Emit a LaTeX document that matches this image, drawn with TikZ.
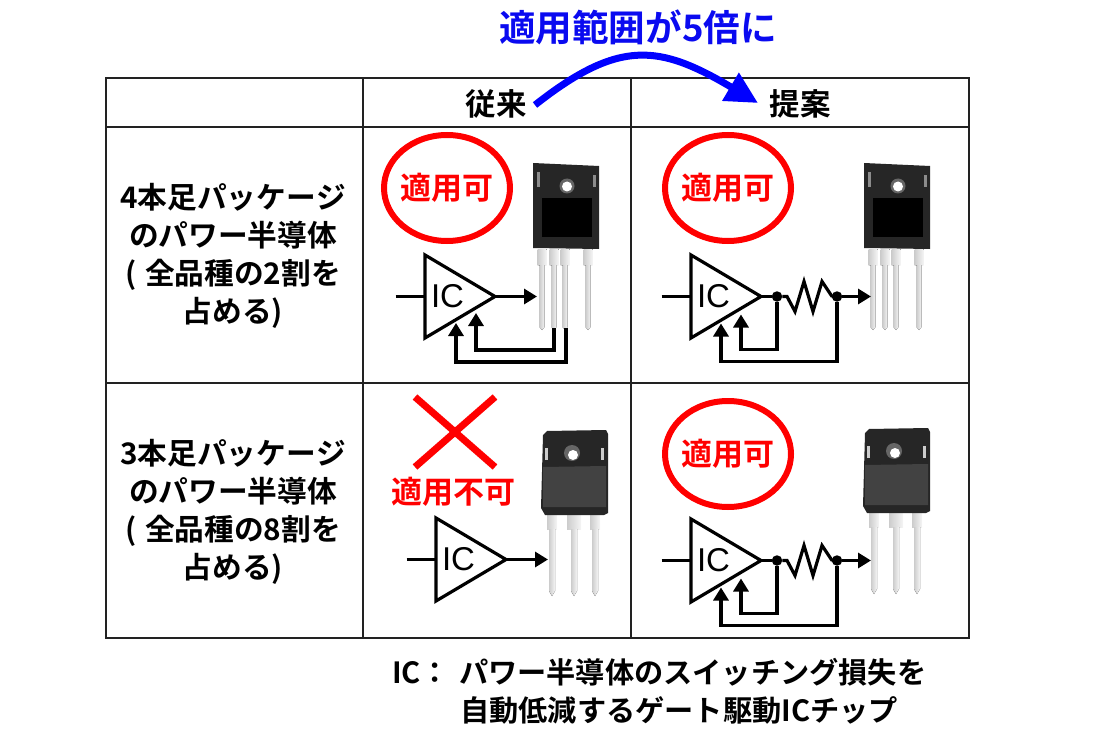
\documentclass[tikz,border=0pt]{standalone}
\usepackage{fontspec}
\setmainfont{Liberation Sans}
\newfontfamily\cjk{Noto Sans CJK JP}[BoldFont={Noto Sans CJK JP Bold},Kerning=Off]
\usetikzlibrary{arrows.meta,shapes.geometric}
\definecolor{tblline}{HTML}{222222}
\tikzset{
    headtxt/.style={font=\cjk\bfseries\fontsize{30.5}{30.5}\selectfont, text=black},
    sidetxt/.style={font=\cjk\bfseries\fontsize{29.7}{38}\selectfont, align=center},
    notetxt/.style={anchor=west, font=\cjk\bfseries\fontsize{29.2}{29.2}\selectfont, inner sep=0pt},
    oktxt/.style={font=\cjk\bfseries\fontsize{31}{31}\selectfont, text=red},
    oval/.style={draw=red, line width=6pt, ellipse, minimum width=126pt, minimum height=106pt, inner sep=0pt},
    icline/.style={line width=3.2pt},
    icarrow/.style={line width=3.2pt, -{Triangle[length=13pt,width=15pt]}},
    jdot/.style={circle, fill=black, minimum size=10.5pt, inner sep=0pt},
    lead/.style={left color=gray!40, right color=gray!8, draw=none},
}
\begin{document}
\begin{tikzpicture}[x=1pt,y=-1pt]
    \useasboundingbox (0,0) rectangle (1100,746);

    % Table
    \draw[tblline, line width=1.4pt] (106,78) rectangle (969,638);
    \draw[tblline, line width=1.4pt] (106,127) -- (969,127);
    \draw[tblline, line width=1.4pt] (106,383) -- (969,383);
    \draw[tblline, line width=1.4pt] (363,78) -- (363,638);
    \draw[tblline, line width=1.4pt] (631,78) -- (631,638);

    % Headers
    \node[headtxt] (conv) at (496,104) {従来};
    \node[headtxt] (prop) at (800,104) {提案};
    \node[sidetxt] (row1) at (233,255.5) {4本足パッケージ\\のパワー半導体\\(\hspace{.3em}全品種の2割を\\占める)};
    \node[sidetxt] (row2) at (233,511.5) {3本足パッケージ\\のパワー半導体\\(\hspace{.3em}全品種の8割を\\占める)};

    % Title and arrow
    \node[font=\cjk\bfseries\fontsize{36.6}{36.6}\selectfont, text={rgb,255:red,10;green,10;blue,240}] (title) at (638,27) {適用範囲が5倍に};
    \coordinate (from) at (535,105);
    \coordinate (to) at (758,103);
    \draw[line width=7pt, blue, -{Triangle[length=32pt,width=31pt]}] (from) .. controls (620,38) and (660,45) .. (to);

    % Four pin packages
    \foreach \x in {0,331} {
        \begin{scope}[shift={(\x,0)}]
            \foreach \p in {542,554,565,588} {
                \fill[lead] (\p-4.5,249) rectangle (\p+4.5,265);
                \fill[lead] (\p-2.5,265) -- (\p+2.5,265) -- (\p+2.5,327) -- (\p,330) -- (\p-2.5,327) -- cycle;
            }
            \fill[black!85] (533,163) -- (599,166) -- (599,249) -- (533,248) -- cycle;
            \fill[black] (542,198) rectangle (592,237);
            \fill[black!60] (567,186) circle (7.5);
            \fill[white] (567,186.5) circle (5);
            \fill[white!55!black] (537,172) rectangle (540,187);
            \fill[white!55!black] (593,175) rectangle (596,187);
        \end{scope}
    }

    % Three pin packages
    \foreach \x/\y in {0/0,-322/2} {
        \begin{scope}[shift={(\x,\y)}]
            \fill[lead] (869,512) rectangle (879,527);
            \fill[lead] (889,512) rectangle (903,527);
            \fill[lead] (912,512) rectangle (922,527);
            \foreach \p in {874,896,917} {
                \fill[lead] (\p-3,527) -- (\p+3,527) -- (\p+3,589) -- (\p,594) -- (\p-3,589) -- cycle;
            }
            \fill[black!85] (865,433) -- (869,429) -- (928,428) -- (930,432) -- (930,511) -- (926,513) -- (867,513) -- (863,506) -- cycle;
            \fill[black!74] (865,465) -- (928,464) -- (928,505) -- (865,505) -- cycle;
            \fill[black!60] (894,451) circle (8);
            \fill[white] (895,453) circle (5);
            \fill[white!80!black] (867,446) rectangle (870,458);
            \fill[white!80!black] (923,446) rectangle (926,458);
        \end{scope}
    }

    % IC amplifiers
    \foreach \x/\y/\n in {425/255/a,691/255/b,436/518/c,691/519/d} {
        \draw[icline, line join=miter, fill=white] (\x,\y) -- (\x,\y+83) -- (\x+70,\y+41.5) -- cycle;
        \coordinate (in\n) at (\x-29.5,\y+41.5);
        \coordinate (left\n) at (\x,\y+41.5);
        \coordinate (out\n) at (\x+70,\y+41.5);
        \node[font=\fontsize{33}{33}\selectfont] (ic\n) at (\x+22.5,\y+41.5) {IC};
        \draw[icline] (in\n) -- (left\n);
    }

    % Top left circuit
    \coordinate (pina) at (537,296.5);
    \draw[icarrow] (outa) -- (pina);
    \coordinate (gatea) at (554,328);
    \coordinate (kelvina) at (566,328);
    \coordinate (fba) at (476,313);
    \coordinate (fbb) at (456,323);
    \draw[icarrow] (gatea) |- (476,350) -- (fba);
    \draw[icarrow] (kelvina) |- (456,362) -- (fbb);

    % Bottom left circuit
    \coordinate (pinc) at (548,559.5);
    \draw[icarrow] (outc) -- (pinc);

    % Right circuits
    \foreach \n/\y in {b/296.5,d/560.5} {
        \node[jdot] (ja\n) at (777,\y) {};
        \node[jdot] (jb\n) at (837,\y) {};
        \coordinate (pin\n) at (871,\y);
        \coordinate (fa\n) at (741,\y+18);
        \coordinate (fb\n) at (721,\y+27);
        \draw[icline] (out\n) -- (ja\n);
        \draw[icline, line join=miter] (ja\n) -- (787,\y) -- (795,\y+15) -- (804,\y-15) -- (813,\y+15) -- (822,\y-15) -- (832,\y) -- (jb\n);
        \draw[icarrow] (jb\n) -- (pin\n);
        \draw[icarrow] (ja\n) -- (777,\y+53) -| (fa\n);
        \draw[icarrow] (jb\n) -- (837,\y+65) -| (fb\n);
    }

    % Verdicts
    \node[oval] (oka) at (447,188) {};
    \node[oktxt] (txta) at (447,188) {適用可};
    \node[oval] (okb) at (728,188) {};
    \node[oktxt] (txtb) at (728,188) {適用可};
    \node[oval] (okd) at (728,454) {};
    \node[oktxt] (txtd) at (728,454) {適用可};
    \draw[red, line width=7pt] (415,397) -- (495,467);
    \draw[red, line width=7pt] (495,397) -- (415,467);
    \node[oktxt] (nok) at (453,492) {適用不可};

    % Footnote
    \node[notetxt] (noteone) at (392,672) {IC：\hspace{9pt}パワー半導体のスイッチング損失を};
    \node[notetxt] (notetwo) at (460,710) {自動低減するゲート駆動ICチップ};
\end{tikzpicture}
\end{document}
